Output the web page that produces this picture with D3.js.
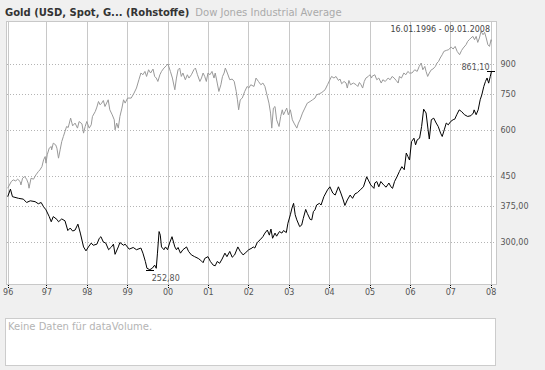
<!DOCTYPE html>
<html>
<head>
<meta charset="utf-8">
<script src="https://cdnjs.cloudflare.com/ajax/libs/d3/7.8.5/d3.min.js"></script>
<style>
body { margin: 0; background: #f0f0f0; }
svg { display: block; font-family: "DejaVu Sans", Verdana, sans-serif; }
</style>
</head>
<body>
<svg></svg>
<script>
// chart data (decimal year, price)
var titleMain = "Gold (USD, Spot, G... (Rohstoffe)";
var titleCompare = "Dow Jones Industrial Average";
var rangeLabel = "16.01.1996 - 09.01.2008";
var emptyVolume = "Keine Daten für dataVolume.";

var yearTicks = [1996, 1997, 1998, 1999, 2000, 2001, 2002, 2003, 2004, 2005, 2006, 2007, 2008];
var priceTicks = [300, 375, 450, 600, 750, 900];
var priceLabels = ["300,00", "375,00", "450", "600", "750", "900"];

var goldSeries = [
  [1996.04,397],[1996.11,416],[1996.16,397],[1996.31,393],[1996.43,391],[1996.51,383],[1996.60,387],[1996.72,385],
  [1996.80,380],[1996.87,383],[1996.93,373],[1996.99,366],[1997.07,351],[1997.12,340],[1997.17,351],[1997.26,345],
  [1997.30,340],[1997.38,346],[1997.46,342],[1997.53,322],[1997.59,327],[1997.65,321],[1997.71,323],[1997.78,335],
  [1997.84,317],[1997.92,291],[1997.98,284],[1998.04,291],[1998.11,298],[1998.16,294],[1998.25,296],[1998.31,307],
  [1998.35,310],[1998.41,300],[1998.47,298],[1998.54,286],[1998.61,291],[1998.66,296],[1998.70,278],[1998.78,291],
  [1998.82,299],[1998.91,294],[1998.95,296],[1999.05,287],[1999.15,290],[1999.23,286],[1999.34,289],[1999.39,280],
  [1999.45,266],[1999.49,255],[1999.56,252.8],[1999.62,255],[1999.68,260],[1999.72,255],[1999.75,280],[1999.79,320],
  [1999.82,313],[1999.85,291],[1999.91,286],[1999.95,291],[2000.00,286],[2000.05,298],[2000.11,310],[2000.18,291],
  [2000.22,286],[2000.26,290],[2000.32,280],[2000.38,286],[2000.47,291],[2000.52,283],[2000.59,277],[2000.67,274],
  [2000.76,271],[2000.82,268],[2000.88,264],[2000.92,271],[2001.00,274],[2001.06,266],[2001.13,260],[2001.18,259],
  [2001.23,266],[2001.29,263],[2001.35,270],[2001.42,280],[2001.47,274],[2001.54,283],[2001.60,273],[2001.66,277],
  [2001.74,291],[2001.80,283],[2001.87,277],[2001.92,280],[2002.01,286],[2002.09,289],[2002.12,291],[2002.16,289],
  [2002.22,299],[2002.29,304],[2002.36,310],[2002.41,317],[2002.47,323],[2002.52,313],[2002.56,325],[2002.60,307],
  [2002.66,317],[2002.70,311],[2002.77,320],[2002.83,317],[2002.87,322],[2002.94,318],[2002.98,337],[2003.04,355],
  [2003.08,370],[2003.12,381],[2003.16,355],[2003.20,344],[2003.27,330],[2003.32,333],[2003.36,347],[2003.42,367],
  [2003.46,358],[2003.53,345],[2003.57,344],[2003.61,362],[2003.65,366],[2003.69,377],[2003.76,381],[2003.80,377],
  [2003.87,397],[2003.96,414],[2004.02,422],[2004.09,406],[2004.15,401],[2004.23,422],[2004.29,406],[2004.35,389],
  [2004.39,376],[2004.45,389],[2004.52,401],[2004.58,393],[2004.64,404],[2004.70,407],[2004.77,414],[2004.85,422],
  [2004.93,449],[2004.97,440],[2005.03,427],[2005.11,418],[2005.13,432],[2005.18,436],[2005.23,422],[2005.28,436],
  [2005.35,427],[2005.41,421],[2005.48,432],[2005.53,422],[2005.57,418],[2005.62,436],[2005.68,449],[2005.74,464],
  [2005.80,478],[2005.86,469],[2005.91,520],[2005.95,509],[2005.99,498],[2006.04,558],[2006.10,570],[2006.14,547],
  [2006.18,564],[2006.24,570],[2006.29,613],[2006.34,682],[2006.40,666],[2006.45,600],[2006.48,567],[2006.53,639],
  [2006.59,645],[2006.65,626],[2006.70,613],[2006.76,588],[2006.80,576],[2006.85,600],[2006.90,626],[2006.95,619],
  [2007.01,632],[2007.07,639],[2007.11,641],[2007.16,659],[2007.22,679],[2007.28,672],[2007.35,659],[2007.43,652],
  [2007.51,655],[2007.57,666],[2007.59,679],[2007.64,659],[2007.69,679],[2007.74,723],[2007.78,745],[2007.83,785],
  [2007.87,809],[2007.91,827],[2007.95,801],[2007.99,835],[2008.02,861.1]
];

var dowSeries = [
  [1996.04,5229],[1996.13,5448],[1996.18,5505],[1996.24,5471],[1996.29,5529],[1996.35,5448],[1996.37,5337],[1996.41,5563],
  [1996.46,5619],[1996.51,5529],[1996.55,5394],[1996.57,5229],[1996.62,5563],[1996.68,5529],[1996.74,5678],[1996.80,5795],
  [1996.84,5856],[1996.89,5978],[1996.93,6231],[1996.97,6360],[1996.99,6105],[1997.02,6427],[1997.07,6699],[1997.12,6766],
  [1997.13,6629],[1997.17,6909],[1997.23,6837],[1997.26,6699],[1997.30,6297],[1997.34,6629],[1997.38,6978],[1997.42,7198],
  [1997.46,7424],[1997.50,7658],[1997.54,7610],[1997.60,8067],[1997.65,7691],[1997.71,7821],[1997.77,7582],[1997.81,7898],
  [1997.88,7787],[1997.92,7351],[1997.96,7658],[1998.00,7898],[1998.06,7582],[1998.11,7739],[1998.14,8147],[1998.21,8403],
  [1998.25,8635],[1998.29,8939],[1998.33,8759],[1998.37,8851],[1998.41,8994],[1998.45,8667],[1998.53,9035],[1998.57,8491],
  [1998.63,8233],[1998.68,7982],[1998.70,7503],[1998.74,7821],[1998.78,7582],[1998.82,8147],[1998.87,8582],[1998.91,9035],
  [1998.95,8851],[1999.01,9130],[1999.10,9130],[1999.17,9417],[1999.23,9713],[1999.29,10225],[1999.34,10659],[1999.39,10547],
  [1999.44,10765],[1999.48,10436],[1999.53,10878],[1999.58,10659],[1999.64,10925],[1999.68,10436],[1999.72,10333],[1999.76,10118],
  [1999.81,10547],[1999.85,10765],[1999.91,10993],[1999.97,11151],[2000.01,11270],[2000.07,10765],[2000.12,10333],[2000.18,9612],
  [2000.22,10333],[2000.26,10878],[2000.30,10993],[2000.34,10436],[2000.38,10659],[2000.44,10225],[2000.49,10547],[2000.53,10333],
  [2000.59,10547],[2000.65,10878],[2000.69,10993],[2000.74,10547],[2000.80,10118],[2000.84,10333],[2000.88,10659],[2000.92,10436],
  [2000.96,10118],[2001.00,10659],[2001.05,10547],[2001.10,10765],[2001.15,10333],[2001.18,10659],[2001.23,10019],[2001.27,9511],
  [2001.32,9913],[2001.36,10436],[2001.40,10659],[2001.43,10993],[2001.48,10659],[2001.54,10225],[2001.60,10269],[2001.65,10118],
  [2001.70,9511],[2001.73,9035],[2001.76,8491],[2001.80,9035],[2001.85,9130],[2001.91,9511],[2001.97,9810],[2002.01,9713],
  [2002.06,9913],[2002.14,9810],[2002.19,10333],[2002.25,10118],[2002.31,9913],[2002.36,10019],[2002.41,9810],[2002.46,9318],
  [2002.51,8851],[2002.55,8320],[2002.58,7582],[2002.62,8582],[2002.66,8667],[2002.70,7982],[2002.76,7658],[2002.80,8147],
  [2002.84,8491],[2002.87,8233],[2002.91,8403],[2002.95,8582],[2002.99,8233],[2003.04,8491],[2003.09,7982],[2003.13,7821],
  [2003.20,7582],[2003.24,7821],[2003.28,7982],[2003.34,8320],[2003.40,8582],[2003.46,8851],[2003.53,8939],[2003.59,9035],
  [2003.65,9130],[2003.69,9318],[2003.76,9376],[2003.82,9452],[2003.90,9612],[2003.96,9913],[2004.02,10225],[2004.06,10436],
  [2004.12,10333],[2004.17,10436],[2004.23,10181],[2004.27,10269],[2004.31,9975],[2004.37,10118],[2004.42,10019],[2004.45,9713],
  [2004.49,10181],[2004.53,9913],[2004.60,10019],[2004.67,9913],[2004.71,9810],[2004.75,10056],[2004.79,9913],[2004.83,9713],
  [2004.87,10118],[2004.91,10333],[2004.97,10436],[2005.01,10547],[2005.05,10333],[2005.06,10436],[2005.13,10547],[2005.18,10225],
  [2005.23,10333],[2005.29,10019],[2005.33,10225],[2005.39,10118],[2005.46,10333],[2005.51,10225],[2005.56,10436],[2005.61,10333],
  [2005.66,10181],[2005.71,10019],[2005.74,10436],[2005.79,10333],[2005.85,10659],[2005.90,10547],[2005.95,10765],[2005.99,10659],
  [2006.05,10659],[2006.12,10878],[2006.18,10765],[2006.23,11103],[2006.28,11339],[2006.32,10878],[2006.37,11103],[2006.40,10765],
  [2006.44,10436],[2006.48,10659],[2006.53,10878],[2006.57,10925],[2006.63,11103],[2006.67,11339],[2006.71,11452],[2006.75,11696],
  [2006.80,11937],[2006.84,12183],[2006.90,12259],[2006.96,12313],[2007.02,12521],[2007.07,12366],[2007.12,12567],[2007.17,12183],
  [2007.23,11937],[2007.28,12259],[2007.32,12443],[2007.39,12699],[2007.43,12961],[2007.47,13099],[2007.51,13237],[2007.56,13369],
  [2007.60,13099],[2007.64,13369],[2007.68,12881],[2007.72,13237],[2007.76,13790],[2007.81,13510],[2007.85,13704],[2007.89,13237],
  [2007.93,12699],[2007.97,12567],[2008.01,13099],[2008.02,12961]
];

var width = 545;
var height = 370;
var plot = { left: 6.5, top: 21.5, right: 496.5, bottom: 284.5 };

var svg = d3.select("svg")
    .attr("width", width)
    .attr("height", height);

// scales
var xScale = d3.scaleLinear().domain([1996.042, 2008.025]).range([7.7, 491.7]).clamp(true);
var yGold = d3.scaleLog().domain([300, 900]).range([242, 64.3]);
// dow drawn rebased onto the same log grid
var yDow = d3.scaleLog().domain([3750, 11250]).range([242, 64.3]);

var crisp = function(v) { return Math.round(v) + 0.5; };

// plot background
svg.append("rect")
    .attr("x", plot.left).attr("y", plot.top)
    .attr("width", plot.right - plot.left).attr("height", plot.bottom - plot.top)
    .style("fill", "#fff");

// vertical year grid
svg.append("g").selectAll("line")
    .data(yearTicks)
    .enter().append("line")
    .attr("x1", function(d) { return crisp(xScale(d)); })
    .attr("x2", function(d) { return crisp(xScale(d)); })
    .attr("y1", plot.top).attr("y2", plot.bottom)
    .style("stroke", "#c8c8c8")
    .style("shape-rendering", "crispEdges");

// horizontal dotted grid
svg.append("g").selectAll("line")
    .data(priceTicks)
    .enter().append("line")
    .attr("x1", plot.left).attr("x2", plot.right)
    .attr("y1", function(d) { return crisp(yGold(d)); })
    .attr("y2", function(d) { return crisp(yGold(d)); })
    .style("stroke", "#b4b4b4")
    .style("stroke-dasharray", "1,2")
    .style("shape-rendering", "crispEdges");

// frame
svg.append("rect")
    .attr("x", plot.left).attr("y", plot.top)
    .attr("width", plot.right - plot.left).attr("height", plot.bottom - plot.top)
    .style("fill", "none")
    .style("stroke", "#c8c8c8")
    .style("shape-rendering", "crispEdges");

svg.append("clipPath").attr("id", "clip")
  .append("rect")
    .attr("x", plot.left).attr("y", plot.top)
    .attr("width", plot.right - plot.left).attr("height", plot.bottom - plot.top);

var lines = svg.append("g").attr("clip-path", "url(#clip)");

var dowLine = d3.line()
    .x(function(d) { return xScale(d[0]); })
    .y(function(d) { return yDow(d[1]); });

var goldLine = d3.line()
    .x(function(d) { return xScale(d[0]); })
    .y(function(d) { return yGold(d[1]); });

lines.append("path")
    .attr("d", dowLine(dowSeries))
    .style("fill", "none")
    .style("stroke", "#999")
    .style("stroke-width", 1);

lines.append("path")
    .attr("d", goldLine(goldSeries))
    .style("fill", "none")
    .style("stroke", "#000")
    .style("stroke-width", 1);

// min / max markers
var fmt = function(v) { return d3.format(".2f")(v).replace(".", ","); };
var lo = d3.least(goldSeries, function(d) { return d[1]; });
var hi = d3.greatest(goldSeries, function(d) { return d[1]; });

lines.selectAll(".mark")
    .data([lo, hi])
    .enter().append("line")
    .attr("class", "mark")
    .attr("x1", function(d) { return xScale(d[0]) - 4; })
    .attr("x2", function(d) { return xScale(d[0]) + 4; })
    .attr("y1", function(d) { return crisp(yGold(d[1])); })
    .attr("y2", function(d) { return crisp(yGold(d[1])); })
    .style("stroke", "#000")
    .style("shape-rendering", "crispEdges");

svg.append("text")
    .attr("x", xScale(lo[0]) + 2)
    .attr("y", yGold(lo[1]) + 11)
    .style("font-size", "8px")
    .style("fill", "#555")
    .text(fmt(lo[1]));

svg.append("text")
    .attr("x", xScale(hi[0]) - 2)
    .attr("y", yGold(hi[1]) - 1.5)
    .attr("text-anchor", "end")
    .style("font-size", "8px")
    .style("fill", "#555")
    .text(fmt(hi[1]));

svg.append("text")
    .attr("x", 490)
    .attr("y", 32)
    .attr("text-anchor", "end")
    .style("font-size", "8px")
    .style("fill", "#444")
    .text(rangeLabel);

// x axis
var xAxis = svg.append("g")
    .attr("transform", "translate(0," + plot.bottom + ")")
    .call(d3.axisBottom(xScale)
        .tickValues(yearTicks)
        .tickSize(4)
        .tickPadding(1)
        .tickFormat(function(d) { return String(d).slice(2); }));

xAxis.select(".domain").remove();
xAxis.selectAll(".tick line")
    .style("stroke", "#000")
    .style("stroke-dasharray", "1,1")
    .style("shape-rendering", "crispEdges");
xAxis.selectAll("text")
    .style("font-family", "DejaVu Sans")
    .style("font-size", "8px")
    .style("fill", "#555");

// y axis labels
var yAxis = svg.append("g")
    .attr("transform", "translate(" + plot.right + ",0)")
    .call(d3.axisRight(yGold)
        .tickValues(priceTicks)
        .tickSize(0)
        .tickPadding(4)
        .tickFormat(function(d, i) { return priceLabels[i]; }));

yAxis.select(".domain").remove();
yAxis.selectAll("text")
    .style("font-family", "DejaVu Sans")
    .style("font-size", "8px")
    .style("fill", "#555");

// title
var title = svg.append("text")
    .attr("x", 5)
    .attr("y", 16)
    .style("font-size", "10px");

title.append("tspan")
    .style("font-weight", "bold")
    .style("fill", "#333")
    .text(titleMain);

title.append("tspan")
    .attr("dx", 6)
    .style("fill", "#aaa")
    .text(titleCompare);

// volume panel
svg.append("rect")
    .attr("x", 5.5).attr("y", 318.5)
    .attr("width", 490).attr("height", 47)
    .style("fill", "#fff")
    .style("stroke", "#ccc")
    .style("shape-rendering", "crispEdges");

svg.append("text")
    .attr("x", 8)
    .attr("y", 330)
    .style("font-size", "10px")
    .style("fill", "#b4b4b4")
    .text(emptyVolume);
</script>
</body>
</html>
